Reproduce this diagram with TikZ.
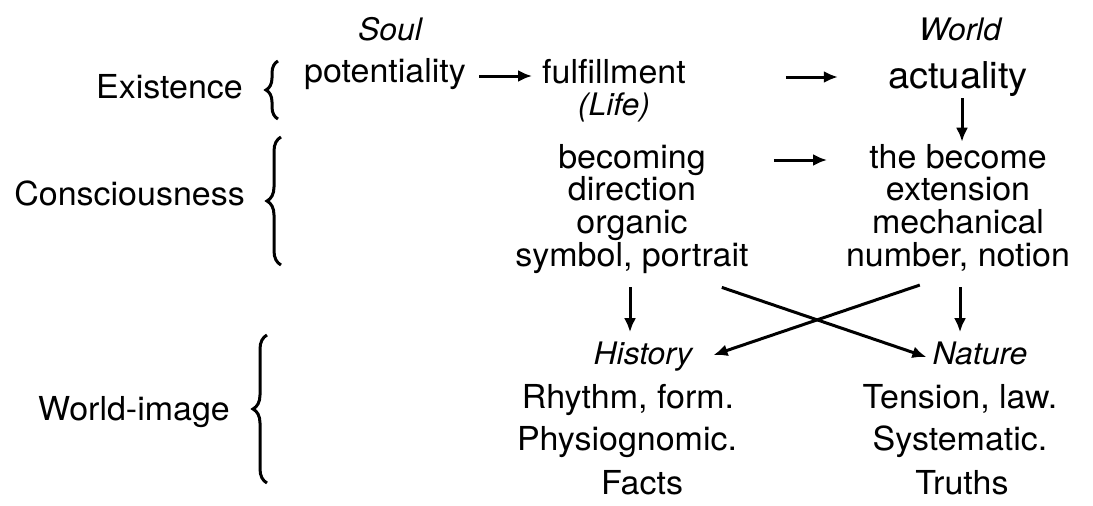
\documentclass[tikz,border=0pt]{standalone}
\usepackage{fontspec}
\setmainfont{TeX Gyre Heros}[FakeStretch=1.03]
\usetikzlibrary{arrows.meta,decorations.pathreplacing,calc}
\tikzset{
  txt/.style={inner sep=0pt, anchor=base, font=\fontsize{33}{33}\selectfont},
  itx/.style={inner sep=0pt, anchor=base, font=\fontsize{31}{31}\selectfont\itshape},
  arr/.style={line width=3pt, -{Latex[length=14pt,width=12pt]}},
  brc/.style={decorate, decoration={brace, amplitude=#1}, line width=3pt},
  brc/.default=14pt
}
\begin{document}
\begin{tikzpicture}[x=1pt,y=-1pt]
\useasboundingbox (0,0) rectangle (1093,506);
% headers
\node[itx] (soul) at (390,40) {Soul};
\node[itx] (world) at (960,40) {World};
% row labels
\node[txt, anchor=base east] (exi) at (243,98) {Existence};
\node[txt, anchor=base east] (con) at (245,205) {Consciousness};
\node[txt, anchor=base east] (wim) at (230,420) {World-image};
% braces
\draw[brc=12pt] (278,119) -- (278,61);
\draw[brc] (281,265) -- (281,137);
\draw[brc] (267,483) -- (267,335);
% existence row
\node[txt] (pot) at (385,82) {potentiality};
\node[txt] (ful) at (614,83) {fulfillment};
\node[itx] (life) at (614,115) {(Life)};
\node[txt, font=\fontsize{37}{37}\selectfont] (act) at (958,88) {actuality};
% consciousness
\node[txt] (bec) at (632,168) {becoming};
\node[txt] (dir) at (632,200) {direction};
\node[txt] (org) at (632,233) {organic};
\node[txt] (sym) at (632,266) {symbol, portrait};
\node[txt] (tbc) at (958,168) {the become};
\node[txt] (ext) at (958,200) {extension};
\node[txt] (mec) at (958,233) {mechanical};
\node[txt] (num) at (958,266) {number, notion};
% world-image
\node[itx] (his) at (643,364) {History};
\node[itx] (nat) at (980,364) {Nature};
\node[txt] (rhy) at (628,408) {Rhythm, form.};
\node[txt] (phy) at (627,450) {Physiognomic.};
\node[txt] (fac) at (642,494) {Facts};
\node[txt] (ten) at (960,408) {Tension, law.};
\node[txt] (sys) at (960,450) {Systematic.};
\node[txt] (tru) at (962,494) {Truths};
% arrows
\draw[arr, shorten <=13pt, shorten >=10pt] ([yshift=6pt]pot.base east) -- ([yshift=6pt]pot.base east -| ful.west);
\draw[arr, shorten <=100pt, shorten >=50pt] ([yshift=6pt]ful.base east) -- ([yshift=6pt]ful.base east -| act.west);
\draw[arr, shorten <=2pt, shorten >=2pt] ([xshift=4pt]act.south) -- ([xshift=4pt]act.south |- tbc.north);
\draw[arr, shorten <=68pt, shorten >=42pt] ([yshift=8pt]bec.base east) -- ([yshift=8pt]bec.base east -| tbc.west);
\draw[arr, shorten <=14pt, shorten >=9pt] ([xshift=-2pt]sym.south) -- ([xshift=-2pt]sym.south |- his.north);
\draw[arr, shorten <=16pt, shorten >=9pt] ([xshift=2pt]num.south) -- ([xshift=2pt]num.south |- nat.north);
\draw[arr] ([xshift=-27pt,yshift=-14pt]sym.south east) -- ([xshift=-6pt,yshift=7pt]nat.base west);
\draw[arr] ([xshift=74pt,yshift=-14pt]num.south west) -- ([xshift=21pt,yshift=9pt]his.base east);
\end{tikzpicture}
\end{document}
